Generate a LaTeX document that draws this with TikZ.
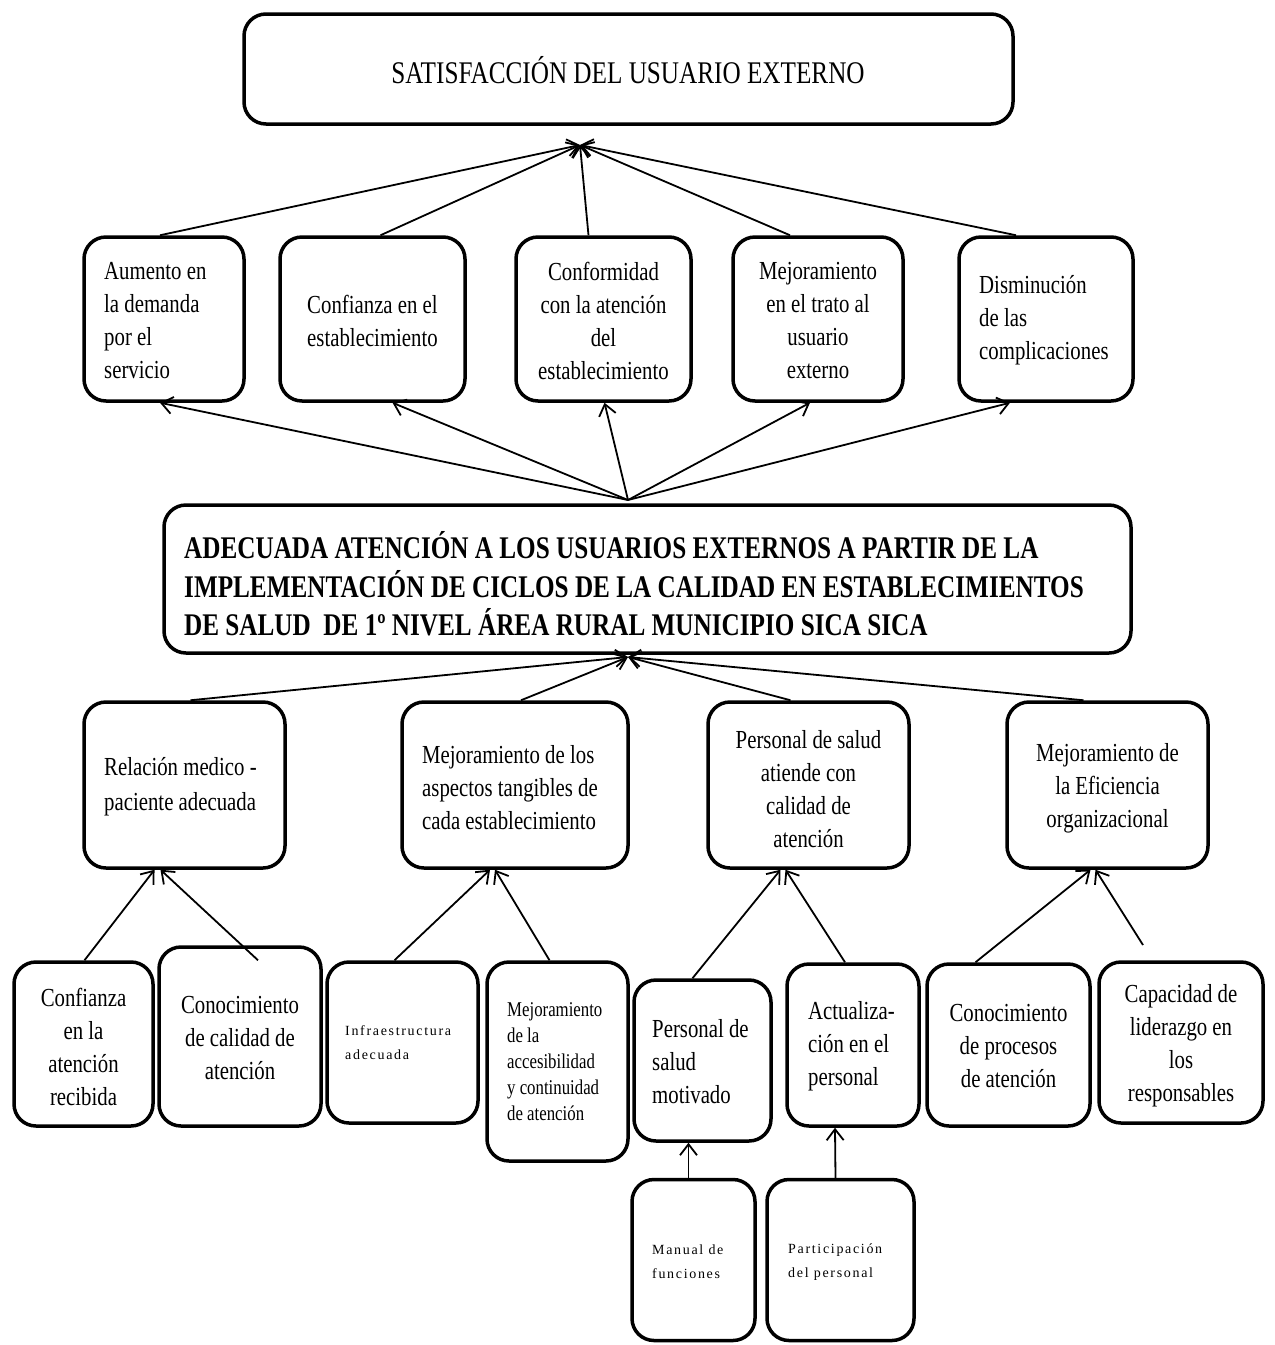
\documentclass[tikz,border=0pt]{standalone}
\usepackage{fontspec}
\setmainfont{Liberation Serif}[FakeStretch=0.8]
\newfontfamily\spacedfont{Liberation Serif}[LetterSpace=12]
\usetikzlibrary{arrows.meta}
\begin{document}
\begin{tikzpicture}[x=1pt,y=-1pt,
  box/.style={draw, line width=3.5pt, rounded corners=22pt, inner sep=0pt},
  txt/.style={inner sep=0pt, font=\fontsize{26}{33}\selectfont, align=center},
  txtl/.style={inner sep=0pt, font=\fontsize{26}{33}\selectfont, align=left, anchor=west},
  smallt/.style={inner sep=0pt, font=\fontsize{21}{26}\selectfont, align=left, anchor=west},
  spacedt/.style={inner sep=0pt, font=\spacedfont\fontsize{14}{24}\selectfont, align=left, anchor=west},
  conn/.style={line width=1.8pt, -{Straight Barb[length=11pt,width=17pt]}},
]
\fill[white] (0,0) rectangle (1275,1345);
\useasboundingbox (0,0) rectangle (1275,1345);

% top
\node[box,minimum width=769,minimum height=110] (top) at (628.5,69) {};
\node[txt,font=\fontsize{31.5}{36}\selectfont] (ttop) at (628,70) {SATISFACCIÓN DEL USUARIO EXTERNO};

% row 2
\node[box,minimum width=160,minimum height=164] (b1) at (164,319) {};
\node[box,minimum width=185,minimum height=164] (b2) at (372.5,319) {};
\node[box,minimum width=175,minimum height=164] (b3) at (603.5,319) {};
\node[box,minimum width=170,minimum height=164] (b4) at (818,319) {};
\node[box,minimum width=174,minimum height=164] (b5) at (1046,319) {};
\node[txtl] (tb1) at (104,321) {Aumento en\\la demanda\\por el\\servicio};
\node[txt] (tb2) at (372.5,321) {Confianza en el\\establecimiento};
\node[txt] (tb3) at (603.5,321) {Conformidad\\con la atención\\del\\establecimiento};
\node[txt] (tb4) at (818,321) {Mejoramiento\\en el trato al\\usuario\\externo};
\node[txtl] (tb5) at (979,320) {Disminución\\de las\\complicaciones};

% main
\node[box,minimum width=967,minimum height=148] (main) at (647.5,579) {};
\node[inner sep=0pt, anchor=west, align=left, font=\fontsize{31.5}{38.5}\selectfont\bfseries] (tmain) at (184,584)
 {ADECUADA ATENCIÓN A LOS USUARIOS EXTERNOS A PARTIR DE LA\\IMPLEMENTACIÓN DE CICLOS DE LA CALIDAD EN ESTABLECIMIENTOS\\DE SALUD\ \ DE 1º NIVEL ÁREA RURAL MUNICIPIO SICA SICA};

% row 3
\node[box,minimum width=201,minimum height=166] (c1) at (184.5,785) {};
\node[box,minimum width=226,minimum height=166] (c2) at (515,785) {};
\node[box,minimum width=201,minimum height=166] (c3) at (808.5,785) {};
\node[box,minimum width=201,minimum height=166] (c4) at (1107.5,785) {};
\node[txtl,font=\fontsize{26}{35}\selectfont] (tc1) at (104,787) {Relación medico -\\paciente adecuada};
\node[txtl] (tc2) at (422,788) {Mejoramiento de los\\aspectos tangibles de\\cada establecimiento};
\node[txt] (tc3) at (808.5,789) {Personal de salud\\atiende con\\calidad de\\atención};
\node[txt] (tc4) at (1107.5,788) {Mejoramiento de\\la Eficiencia\\organizacional};

% row 4
\node[box,minimum width=139,minimum height=164] (d1) at (83.5,1044) {};
\node[box,minimum width=162,minimum height=179] (d2) at (240,1036.5) {};
\node[box,minimum width=151,minimum height=161] (d3) at (402.5,1042.5) {};
\node[box,minimum width=141,minimum height=199] (d4) at (557.5,1061.5) {};
\node[box,minimum width=137,minimum height=161] (d5) at (702.5,1060.5) {};
\node[box,minimum width=132,minimum height=162] (d6) at (853,1045) {};
\node[box,minimum width=163,minimum height=162] (d7) at (1008.5,1045) {};
\node[box,minimum width=164,minimum height=161] (d8) at (1181,1042.5) {};
\node[txt] (td1) at (83.5,1047) {Confianza\\en la\\atención\\recibida};
\node[txt] (td2) at (240,1038) {Conocimiento\\de calidad de\\atención};
\node[spacedt] (td3) at (345,1043) {Infraestructura\\adecuada};
\node[smallt] (td4) at (507,1062) {Mejoramiento\\de la\\accesibilidad\\y continuidad\\de atención};
\node[txtl] (td5) at (652,1062) {Personal de\\salud\\motivado};
\node[txtl] (td6) at (808,1046) {Actualiza-\\ción en el\\personal};
\node[txt] (td7) at (1008.5,1046) {Conocimiento\\de procesos\\de atención};
\node[txt] (td8) at (1181,1046) {Capacidad de\\liderazgo en\\los\\responsables};

% row 5
\node[box,minimum width=123,minimum height=161] (e1) at (693.5,1260) {};
\node[box,minimum width=147,minimum height=161] (e2) at (840.5,1260) {};
\node[spacedt] (te1) at (652,1262) {Manual de\\funciones};
\node[spacedt] (te2) at (788,1262) {Participación\\del personal};

% connectors
\coordinate (apexA) at (580,145);
\coordinate (apexB) at (628,500);
\coordinate (apexC) at (628,657);
\coordinate (free8) at (1143,945);

\draw[conn] ([xshift=-4]b1.north) -- (apexA);
\draw[conn] ([xshift=8]b2.north) -- (apexA);
\draw[conn] ([xshift=-15]b3.north) -- (apexA);
\draw[conn] ([xshift=-28]b4.north) -- (apexA);
\draw[conn] ([xshift=-30]b5.north) -- (apexA);

\draw[conn] (apexB) -- ([xshift=-4]b1.south);
\draw[conn] (apexB) -- ([xshift=20]b2.south);
\draw[conn] (apexB) -- ([xshift=1]b3.south);
\draw[conn] (apexB) -- ([xshift=-8]b4.south);
\draw[conn] (apexB) -- ([xshift=-36]b5.south);

\draw[conn] ([xshift=6]c1.north) -- (apexC);
\draw[conn] ([xshift=6]c2.north) -- (apexC);
\draw[conn] ([xshift=-18]c3.north) -- (apexC);
\draw[conn] ([xshift=-24]c4.north) -- (apexC);

\draw[conn] ([xshift=1]d1.north) -- ([xshift=-30]c1.south);
\draw[conn] ([xshift=18,yshift=-15]d2.north) -- ([xshift=-24]c1.south);
\draw[conn] ([xshift=-8]d3.north) -- ([xshift=-25]c2.south);
\draw[conn] ([xshift=-8]d4.north) -- ([xshift=-20]c2.south);
\draw[conn] ([xshift=-10]d5.north) -- ([xshift=-28]c3.south);
\draw[conn] ([xshift=-8]d6.north) -- ([xshift=-23]c3.south);
\draw[conn] ([xshift=-33]d7.north) -- ([xshift=-17]c4.south);
\draw[conn] (free8) -- ([xshift=-12]c4.south);

\draw[conn] ([xshift=-5]e1.north) -- ([xshift=-14]d5.south);
\draw[conn] ([xshift=-5]e2.north) -- ([xshift=-18]d6.south);
\end{tikzpicture}
\end{document}
